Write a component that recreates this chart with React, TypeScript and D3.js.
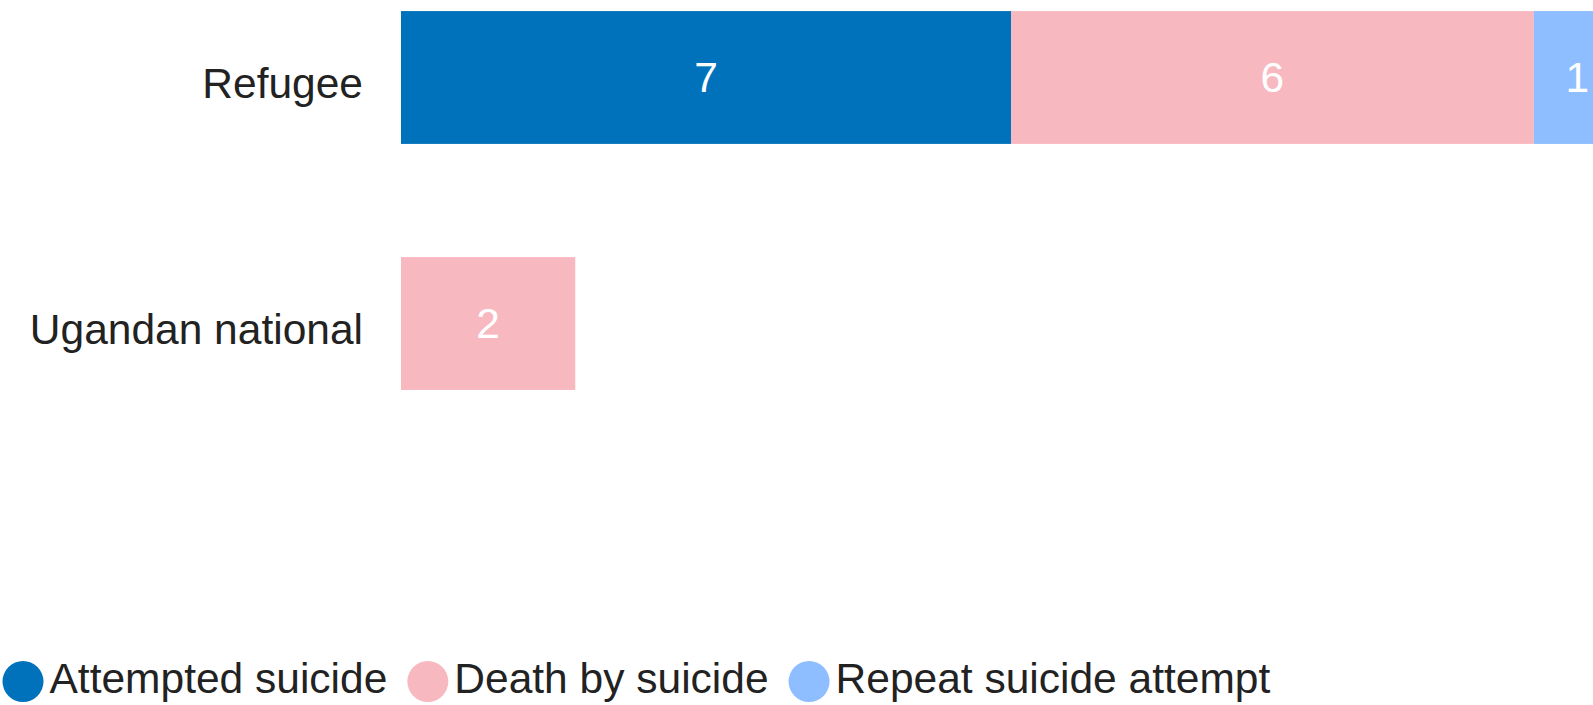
import React, { useEffect, useRef } from "react";
import * as d3 from "d3";

const categories = ["Refugee", "Ugandan national"];
const seriesNames = ["Attempted suicide", "Death by suicide", "Repeat suicide attempt"];
const attempted = [7, 0];
const death = [6, 2];
const repeat = [1, 0];
const colors = ["#0072BC", "#F8B8C0", "#8EBEFF"];

const W = 1593;
const H = 705;
const FONT = "Arial, 'Liberation Sans', Helvetica, sans-serif";
const FS = 42.5;

export default function App() {
  const ref = useRef<SVGSVGElement | null>(null);

  useEffect(() => {
    const svg = d3.select(ref.current);
    svg.selectAll("*").remove();

    const series = [attempted, death, repeat];
    const rows = categories.map((c, i) => {
      const o: any = { cat: c };
      seriesNames.forEach((s, j) => (o[s] = series[j][i]));
      return o;
    });
    const stacked = d3.stack().keys(seriesNames)(rows);

    const x = d3.scaleLinear().domain([0, 14]).range([401, 1621]);
    const y = d3
      .scaleBand()
      .domain(categories)
      .range([0, 401])
      .paddingInner(0.46)
      .paddingOuter(0.045);

    const g = svg.append("g");
    stacked.forEach((layer, j) => {
      layer.forEach((d: any, i) => {
        const v = d[1] - d[0];
        if (v <= 0) return;
        const cat = categories[i];
        g.append("rect")
          .attr("x", x(d[0]))
          .attr("y", y(cat)!)
          .attr("width", x(d[1]) - x(d[0]))
          .attr("height", y.bandwidth())
          .attr("fill", colors[j]);
        g.append("text")
          .attr("x", (x(d[0]) + x(d[1])) / 2)
          .attr("y", y(cat)! + y.bandwidth() / 2)
          .attr("dy", "0.33em")
          .attr("text-anchor", "middle")
          .attr("fill", "#ffffff")
          .attr("font-size", FS)
          .attr("font-family", FONT)
          .text(String(v));
      });
    });

    // category axis labels
    categories.forEach((c) => {
      svg
        .append("text")
        .attr("x", 363)
        .attr("y", y(c)! + y.bandwidth() / 2 + 20.5)
        .attr("text-anchor", "end")
        .attr("fill", "#222222")
        .attr("font-size", FS)
        .attr("font-family", FONT)
        .text(c);
    });

    // legend
    const lg = svg.append("g");
    let cx = 2.5;
    const cy = 681.5;
    const r = 20.5;
    seriesNames.forEach((s, j) => {
      lg.append("circle")
        .attr("cx", cx + r)
        .attr("cy", cy)
        .attr("r", r)
        .attr("fill", colors[j]);
      const t = lg
        .append("text")
        .attr("x", cx + 2 * r + 6)
        .attr("y", 693)
        .attr("fill", "#222222")
        .attr("font-size", FS)
        .attr("font-family", FONT)
        .text(s);
      const len = (t.node() as SVGTextElement).getComputedTextLength();
      cx = cx + 2 * r + 6 + len + 20;
    });
  }, []);

  return (
    <svg
      ref={ref}
      width={W}
      height={H}
      style={{ position: "absolute", left: 0, top: 0, background: "#ffffff" }}
    />
  );
}
